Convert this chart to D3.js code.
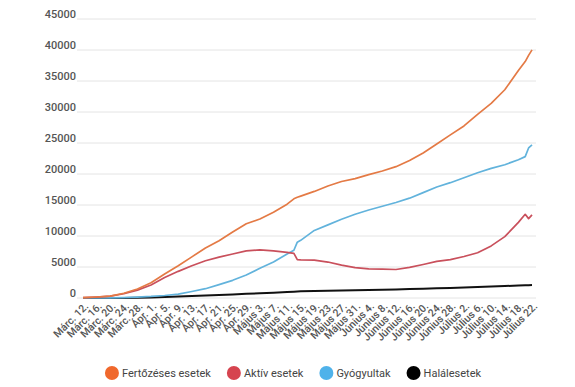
<!DOCTYPE html>
<html lang="hu">
  <head>
    <title>Esetek</title>
    <meta charset="UTF-8">
    <script src="https://d3js.org/d3.v7.min.js"></script>
    <style>
      * { margin: 0; padding: 0; }
      body { background: #fff; }
      svg { display: block; font-family: 'Roboto', sans-serif; }
    </style>
  </head>
  <body>
    <script>
      // napok márc. 12. óta
      const days = [0, 4, 8, 12, 16, 20, 24, 28, 32, 36, 40, 44, 48, 52, 56, 60, 62, 63, 64,
                    68, 72, 76, 80, 84, 88, 92, 96, 100, 104, 108, 112, 116, 120, 124, 128, 130, 131, 132]

      const fertozes = [49, 158, 308, 762, 1452, 2460, 3864, 5202, 6633, 8067, 9242, 10635, 11978, 12732, 13837, 15131, 16000, 16250, 16437,
                        17191, 18070, 18791, 19257, 19907, 20479, 21182, 22165, 23400, 24826, 26314, 27746, 29620, 31381, 33585, 36691, 38139, 39133, 40014]
      const aktiv = [45, 150, 290, 680, 1270, 2100, 3300, 4300, 5200, 6000, 6600, 7100, 7600, 7750, 7600, 7350, 7200, 6200, 6150,
                     6100, 5800, 5300, 4900, 4700, 4650, 4600, 4950, 5400, 5900, 6200, 6700, 7300, 8400, 9900, 12200, 13500, 12800, 13400]
      const gyogyult = [0, 9, 25, 70, 150, 250, 400, 620, 1050, 1500, 2150, 2850, 3700, 4800, 5800, 7100, 7700, 9000, 9300,
                        10900, 11800, 12700, 13500, 14200, 14800, 15400, 16100, 17000, 17900, 18600, 19400, 20200, 20900, 21500, 22300, 22800, 24200, 24700]
      const halal = [0, 0, 2, 17, 37, 94, 160, 229, 331, 421, 498, 565, 675, 768, 839, 952, 1016, 1045, 1070,
                     1141, 1189, 1229, 1262, 1294, 1326, 1369, 1437, 1487, 1554, 1612, 1687, 1768, 1849, 1932, 2011, 2045, 2074, 2101]

      const tickLabels = ['Márc. 12.', 'Márc. 16.', 'Márc. 20.', 'Márc. 24.', 'Márc. 28.', 'Ápr. 1.', 'Ápr. 5.', 'Ápr. 9.',
                          'Ápr. 13.', 'Ápr. 17.', 'Ápr. 21.', 'Ápr. 25.', 'Ápr. 29.', 'Május 3.', 'Május 7.', 'Május 11.',
                          'Május 15.', 'Május 19.', 'Május 23.', 'Május 27.', 'Május 31.', 'Június 4.', 'Június 8.',
                          'Június 12.', 'Június 16.', 'Június 20.', 'Június 24.', 'Június 28.', 'Július 2.', 'Július 6.',
                          'Július 10.', 'Július 14.', 'Július 18.', 'Július 22.']
      const yTicks = [0, 5000, 10000, 15000, 20000, 25000, 30000, 35000, 40000, 45000]

      const seriesNames = ['Fertőzéses esetek', 'Aktív esetek', 'Gyógyultak', 'Halálesetek']
      const lineColors = ['#e47a45', '#c9505c', '#62b3dc', '#111111']
      const dotColors = ['#f0682c', '#d6444f', '#4fb2ea', '#000000']

      const width = 575
      const height = 387

      const start = new Date(2020, 2, 12)
      const dayToDate = (d) => d3.timeDay.offset(start, d)

      const x = d3.scaleTime()
                  .domain([start, dayToDate(132)])
                  .range([83, 532])
      const y = d3.scaleLinear()
                  .domain([0, 45000])
                  .range([298, 19])

      const svg = d3.select('body')
                    .append('svg')
                    .attr('width', width)
                    .attr('height', height)

      // rács + y feliratok
      const grid = svg.append('g')
      grid.selectAll('line')
          .data(yTicks)
          .enter()
          .append('line')
          .attr('x1', 77)
          .attr('x2', 536)
          .attr('y1', (d) => y(d))
          .attr('y2', (d) => y(d))
          .attr('stroke', '#e4e4e4')
          .attr('stroke-width', 1)
      grid.selectAll('text')
          .data(yTicks)
          .enter()
          .append('text')
          .attr('x', 76)
          .attr('y', (d) => y(d) - 1.5)
          .attr('text-anchor', 'end')
          .attr('font-size', 11)
          .attr('font-weight', 500)
          .attr('fill', '#555')
          .text((d) => d)

      // x tengely feliratok
      const tickDays = tickLabels.map((t, i) => i * 4)
      svg.append('g')
         .selectAll('text')
         .data(tickLabels)
         .enter()
         .append('text')
         .attr('transform', (d, i) => 'translate(' + (x(dayToDate(tickDays[i])) + 6) + ',' + 307 + ') rotate(-45)')
         .attr('text-anchor', 'end')
         .attr('font-size', 10.5)
         .attr('font-weight', 500)
         .attr('fill', '#555')
         .text((d) => d)

      // vonalak
      const allSeries = [fertozes, aktiv, gyogyult, halal]
      const line = d3.line()
                     .x((d, i) => x(dayToDate(days[i])))
                     .y((d) => y(d))

      // a halálesetek alul, a fertőzések legfelül
      const order = [3, 2, 1, 0]
      svg.append('g')
         .selectAll('path')
         .data(order)
         .enter()
         .append('path')
         .attr('d', (k) => line(allSeries[k]))
         .attr('fill', 'none')
         .attr('stroke', (k) => lineColors[k])
         .attr('stroke-width', (k) => k === 3 ? 2 : 1.7)
         .attr('stroke-linejoin', 'round')

      // jelmagyarázat
      const legend = svg.append('g')
      const items = legend.selectAll('g')
                          .data(seriesNames)
                          .enter()
                          .append('g')
      items.append('circle')
           .attr('r', 7)
           .attr('cy', 373)
           .attr('fill', (d, i) => dotColors[i])
      items.append('text')
           .attr('y', 377)
           .attr('font-size', 11)
           .attr('fill', '#444')
           .text((d) => d)

      const gap = 10
      const after = 9
      let widths = []
      items.select('text').each(function () { widths.push(this.getComputedTextLength()) })
      const total = d3.sum(widths, (w) => 7 + gap + w + after + 7) - after - 7
      let pos = 293 - total / 2
      items.each(function (d, i) {
        const g = d3.select(this)
        g.select('circle').attr('cx', pos + 7)
        g.select('text').attr('x', pos + 7 + gap)
        pos += 7 + gap + widths[i] + after + 7
      })
    </script>
  </body>
</html>
